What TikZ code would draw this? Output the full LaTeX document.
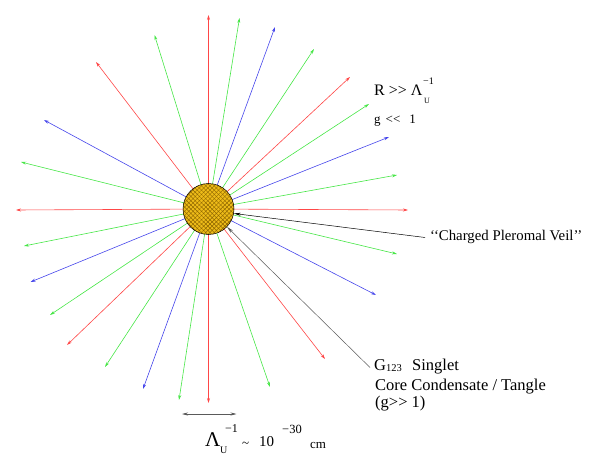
\documentclass[tikz,border=0pt]{standalone}
\usepackage{fontspec}
\setmainfont{Liberation Serif}
\usetikzlibrary{arrows.meta,patterns.meta}
\definecolor{rayred}{RGB}{255,70,70}
\definecolor{raygreen}{RGB}{70,230,70}
\definecolor{rayblue}{RGB}{70,70,235}
\definecolor{coregold}{RGB}{238,188,25}
\definecolor{corehatch}{RGB}{140,100,0}
\definecolor{ptrgray}{RGB}{90,90,90}
\tikzset{
  ray/.style={line width=0.6pt,-{Stealth[length=5pt,width=3pt]}},
  lbl/.style={inner sep=0pt,anchor=base west},
  ptr/.style={line width=0.5pt,-{Stealth[length=7pt,width=3pt]}},
}
\newcommand{\fs}[1]{\fontsize{#1}{#1}\selectfont}
\begin{document}
\begin{tikzpicture}[x=1pt,y=-1pt]
\useasboundingbox (0,0) rectangle (595,468);
\coordinate (c0) at (208.5,209);
\foreach \i/\x/\y/\c in {
 1/208.5/15/rayred, 2/239.5/18/raygreen, 3/275/27/rayblue, 4/314/49/raygreen,
 5/350/77/rayred, 6/369/104/raygreen, 7/389/137/rayblue, 8/397/175/raygreen,
 9/408/210/rayred, 10/397/254/raygreen, 11/376/295/rayblue, 12/325/359/rayred,
 13/270/387/raygreen, 14/208.5/403/rayred, 15/179/400/raygreen, 16/143/389/rayblue,
 17/105/367/raygreen, 18/67/345/rayred, 19/50/315/raygreen, 20/30.5/282/rayblue,
 21/24/246/raygreen, 22/16/210/rayred, 23/21/162/raygreen, 24/44/120/rayblue,
 25/96/62/rayred, 26/154.5/35/raygreen}{
  \coordinate (r\i) at (\x,\y);
  \draw[ray,\c] (c0) -- (r\i);
}
% core
\node[circle,minimum size=51pt,inner sep=0pt,fill=coregold] (core) at (c0) {};
\fill[pattern={Lines[angle=45,distance=3pt,line width=0.45pt]},pattern color=corehatch] (core.center) circle[radius=25.5];
\fill[pattern={Lines[angle=-45,distance=3pt,line width=0.45pt]},pattern color=corehatch] (core.center) circle[radius=25.5];
\draw[line width=0.5pt,black] (core.center) circle[radius=25.5];
% pointers
\coordinate (veilstart) at (425,237.5);
\draw[ptr,black] (veilstart) -- (core.-10);
\coordinate (gstart) at (370,367.5);
\draw[ptr,ptrgray] (gstart) -- (core.-44);
% scale arrow
\coordinate (sa) at (182,414);
\coordinate (sb) at (236.5,414);
\draw[ptrgray,line width=0.6pt,{Stealth[length=6pt,width=3pt]}-{Stealth[length=6pt,width=3pt]}] (sa) -- (sb);
% labels top right
\node[lbl] (tR) at (374,95.5) {\fs{16}R >{}> Λ};
\node[lbl] (tRsup) at (423,85) {\fs{10}−1};
\node[lbl] (tRsub) at (424,103.5) {\fs{8}U};
\node[lbl] (tg) at (374,124) {\fs{13}g\hspace{5pt}<{}<\hspace{9pt}1};
% veil label
\node[lbl] (tveil) at (430,240.5) {\fs{14.8}`{}`Charged Pleromal Veil'{}'};
% G123 labels
\node[lbl] (tG) at (374,370) {\fs{16.5}G};
\node[lbl] (tGsub) at (386,371) {\fs{10.5}123};
\node[lbl] (tSing) at (412,370) {\fs{16.5}Singlet};
\node[lbl] (tCore) at (375,390) {\fs{16.5}Core Condensate / Tangle};
\node[lbl] (tgg) at (375,407.5) {\fs{16.5}(g>{}> 1)};
% bottom scale label
\node[lbl] (tL) at (205,446) {\fs{21}Λ};
\node[lbl] (tLsup) at (225,432) {\fs{12}−1};
\node[lbl] (tLsub) at (220,453) {\fs{10}U};
\node[lbl] (ttil) at (242,447) {\fs{13}\textasciitilde};
\node[lbl] (tten) at (259,446.5) {\fs{15}10};
\node[lbl] (texp) at (282,433) {\fs{12.5}−30};
\node[lbl] (tcm) at (310,448) {\fs{13}cm};
\end{tikzpicture}
\end{document}
